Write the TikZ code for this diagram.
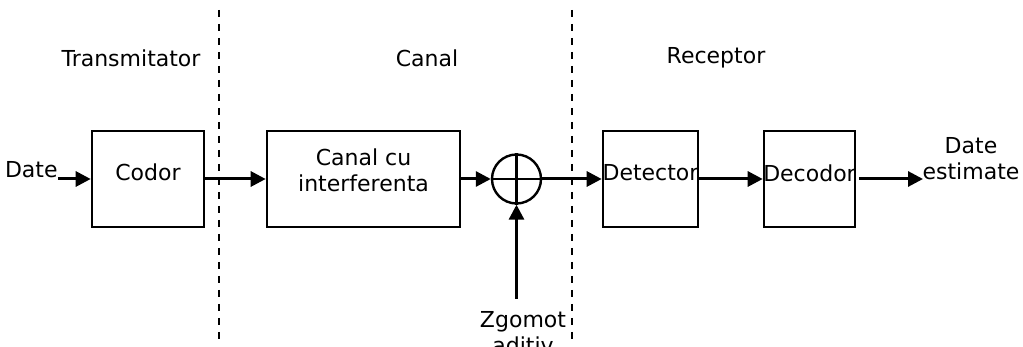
\documentclass[tikz,border=0pt]{standalone}
\usepackage{fontspec}
\setmainfont{DejaVu Sans}
\usetikzlibrary{arrows.meta}
\begin{document}
\begin{tikzpicture}[x=0.5pt,y=-0.5pt,
  font=\fontsize{11}{13}\selectfont,
  block/.style={draw,line width=1.3pt,rectangle,inner sep=0pt,minimum height=48pt},
  flow/.style={line width=1.5pt,-{Triangle[length=7.5pt,width=7.5pt]}},
  divider/.style={line width=1.1pt,dash pattern=on 3.3pt off 3.7pt},
  lbl/.style={inner sep=0pt,align=center}]
\useasboundingbox (0,0) rectangle (1023,347);

% section dividers
\coordinate (d1t) at (219,10);  \coordinate (d1b) at (219,342);
\coordinate (d2t) at (572,10);  \coordinate (d2b) at (572,342);
\draw[divider] (d1t) -- (d1b);
\draw[divider] (d2t) -- (d2b);

% section titles
\node[lbl] (tx) at (131,58) {Transmitator};
\node[lbl] (ch) at (427,58) {Canal};
\node[lbl] (rx) at (716,58) {Receptor};

% blocks
\node[block,minimum width=56pt] (codor) at (148,179) {};
\node[block,minimum width=96.5pt] (canal) at (363.5,179) {};
\node[block,minimum width=47.5pt] (det) at (650.5,179) {};
\node[block,minimum width=45.5pt] (dec) at (809.5,179) {};

% block captions
\node[lbl] (codort) at (148,172) {Codor};
\node[lbl] (canalt) at (363.5,170) {Canal cu\\interferenta};
\node[lbl] (dett) at (650.5,173) {Detector};
\node[lbl] (dect) at (809.5,173) {Decodor};

% summing junction
\node[draw,circle,line width=1.2pt,minimum size=24.5pt,inner sep=0pt] (sum) at (516.5,179) {};
\draw[line width=1.2pt] (sum.north) -- (sum.south);
\draw[line width=1.2pt] (sum.west) -- (sum.east);

% input / output labels
\node[lbl,anchor=east] (in) at (58,170) {Date};
\coordinate (inarr) at (58,179);
\coordinate (outs) at (859,179);
\coordinate (oute) at (923,179);
\node[lbl] (out) at (971,159) {Date\\estimate};

% noise
\coordinate (noise) at (516.5,299);
\node[lbl,anchor=north] (nz) at (523,311) {Zgomot\\aditiv};

% signal path
\draw[flow] (inarr) -- (codor.west);
\draw[flow] (codor.east) -- (canal.west);
\draw[flow] (canal.east) -- (sum.west);
\draw[flow] (sum.east) -- (det.west);
\draw[flow] (det.east) -- (dec.west);
\draw[flow] (outs) -- (oute);
\draw[flow] (noise) -- (sum.south);
\end{tikzpicture}
\end{document}
